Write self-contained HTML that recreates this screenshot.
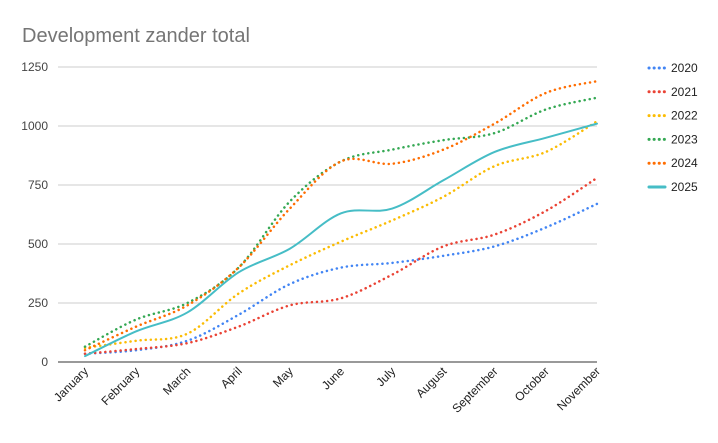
<!DOCTYPE html>
<html><head><meta charset="utf-8"><style>
body{margin:0;background:#fff;font-family:"Liberation Sans",Arial,sans-serif}
svg text{font-family:"Liberation Sans",Arial,sans-serif}
</style></head><body>
<svg id="chart" width="718" height="438">
<rect width="718" height="438" fill="#fff"/>
<text x="22" y="42" font-size="20" fill="#757575">Development zander total</text>
<g id="grid"></g><g id="series"></g><g id="legend"></g><g id="xlabels"></g>
</svg>
<script>
const categories=["January","February","March","April","May","June","July","August","September","October","November"];
const seriesNames=["2020","2021","2022","2023","2024","2025"];
const s2020=[35,50,90,200,330,400,420,450,490,570,670];
const s2021=[35,55,80,150,240,270,370,490,540,640,780];
const s2022=[60,90,120,290,410,510,600,700,830,890,1020];
const s2023=[65,180,250,400,680,850,900,940,970,1070,1120];
const s2024=[50,150,240,400,650,850,840,900,1010,1140,1190];
const s2025=[25,130,210,380,480,630,650,770,890,950,1010];
const yTicks=[0,250,500,750,1000,1250];
const colors=["#4285f4","#ea4335","#fbbc04","#34a853","#ff6d01","#46bdc6"];
const allSeries=[s2020,s2021,s2022,s2023,s2024,s2025];
const NS="http://www.w3.org/2000/svg";
const x0=85,x1=597,y0=362,y1=67;
const xs=i=>x0+(x1-x0)*i/(categories.length-1);
const ys=v=>y0-(y0-y1)*v/1250;
function mk(t,a,p){const e=document.createElementNS(NS,t);for(const k in a)e.setAttribute(k,a[k]);p.appendChild(e);return e;}
const grid=document.getElementById('grid');
yTicks.forEach(v=>{
 const l=mk('line',{x1:58,x2:597,y1:ys(v),y2:ys(v),stroke:v===0?'#333':'#ccc','stroke-width':1},grid);
 
 
 const t=mk('text',{x:48,y:ys(v)+4,'text-anchor':'end','font-size':12,fill:'#444'},grid);
 t.textContent=v;
 
 
});
const xl=document.getElementById('xlabels');
categories.forEach((c,i)=>{
 const t=mk('text',{x:xs(i)+4,y:372,'text-anchor':'end','font-size':12,fill:'#222',transform:`rotate(-45 ${xs(i)+4} 372)`},xl);
 t.textContent=c;
 
 
});
function pathD(vals){
 const p=vals.map((v,i)=>[xs(i),ys(v)]);
 let d=`M${p[0][0]},${p[0][1]}`;
 for(let i=0;i<p.length-1;i++){
  const a=p[Math.max(0,i-1)],b=p[i],c=p[i+1],e=p[Math.min(p.length-1,i+2)];
  const c1=[b[0]+(c[0]-a[0])/6,b[1]+(c[1]-a[1])/6],c2=[c[0]-(e[0]-b[0])/6,c[1]-(e[1]-b[1])/6];
  d+=` C${c1[0]},${c1[1]} ${c2[0]},${c2[1]} ${c[0]},${c[1]}`;
 }
 return d;
}
const sg=document.getElementById('series'),lg=document.getElementById('legend');
allSeries.forEach((vals,k)=>{
 const solid=k===5;
 const p=mk('path',{d:pathD(vals),fill:'none',stroke:colors[k],'stroke-width':solid?2:2.5,'stroke-dasharray':solid?'none':'0.1 5','stroke-linecap':'round'},sg);
 
 
 const ly=68+k*23.8;
 const l=mk('line',{x1:649,x2:665,y1:ly,y2:ly,stroke:colors[k],'stroke-width':solid?3:3,'stroke-dasharray':solid?'none':'0.1 5','stroke-linecap':'round'},lg);
 
 
 const t=mk('text',{x:671,y:ly+4,'font-size':12,fill:'#222'},lg);
 t.textContent=seriesNames[k];
 
 
});
</script>
</body></html>
